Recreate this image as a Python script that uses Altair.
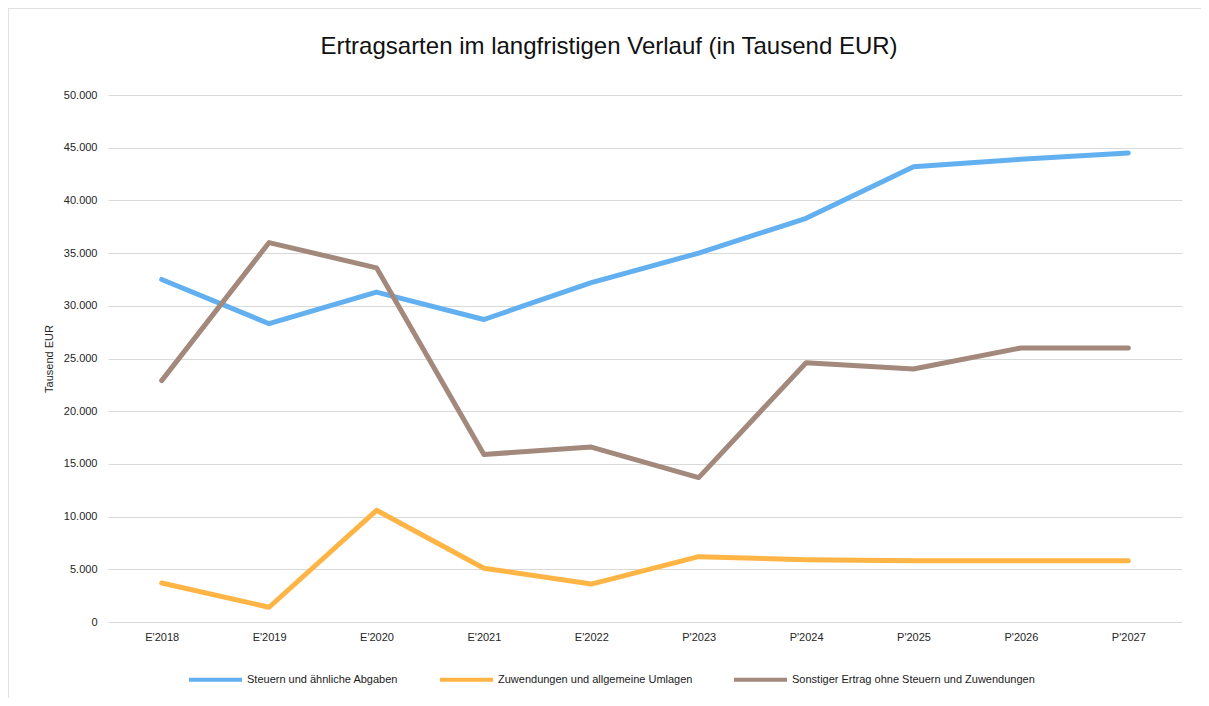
import altair as alt
import pandas as pd

years = ["E'2018", "E'2019", "E'2020", "E'2021", "E'2022",
         "P'2023", "P'2024", "P'2025", "P'2026", "P'2027"]
series_names = [
    "Steuern und ähnliche Abgaben",
    "Zuwendungen und allgemeine Umlagen",
    "Sonstiger Ertrag ohne Steuern und Zuwendungen",
]
steuern = [32500, 28300, 31300, 28700, 32200, 35000, 38300, 43200, 43900, 44500]
zuwendungen = [3700, 1400, 10600, 5100, 3600, 6200, 5900, 5800, 5800, 5800]
sonstiger = [22900, 36000, 33600, 15900, 16600, 13700, 24600, 24000, 26000, 26000]
colors = ["#62B0F0", "#FFB545", "#A3887C"]
y_ticks = list(range(0, 50001, 5000))

rows = []
for name, vals in zip(series_names, [steuern, zuwendungen, sonstiger]):
    for i, (yr, v) in enumerate(zip(years, vals)):
        rows.append({"Jahr": yr, "Serie": name, "Wert": v, "order": i})
df = pd.DataFrame(rows)

W, H = 1074, 527
FONT = "Liberation Sans"

lines = alt.Chart(df).mark_line(strokeWidth=5, strokeCap="round", strokeJoin="round").encode(
    x=alt.X("Jahr:N", sort=years, title=None,
            axis=alt.Axis(labelAngle=0, ticks=False, tickSize=0, domain=False,
                          labelPadding=9, grid=False)),
    y=alt.Y("Wert:Q", title="Tausend EUR",
            scale=alt.Scale(domain=[0, 50000], nice=False),
            axis=alt.Axis(values=y_ticks, ticks=False, tickSize=0, domain=False,
                          labelPadding=11, gridColor="#D9D9D9", gridWidth=1,
                          titlePadding=9,
                          labelExpr="replace(format(datum.value, ','), ',', '.')")),
    color=alt.Color("Serie:N", sort=series_names,
                    scale=alt.Scale(domain=series_names, range=colors),
                    legend=alt.Legend(title=None, orient="none", direction="horizontal",
                                      legendX=79, legendY=556, symbolType="stroke",
                                      symbolSize=2809, symbolStrokeWidth=4,
                                      labelOffset=3, columnPadding=33, padding=0,
                                      labelLimit=400)),
    order="order:Q",
)

border = alt.Chart(pd.DataFrame({"a": [0]})).mark_rect(
    fill=None, stroke="#D9D9D9", strokeWidth=1.5
).encode(x=alt.value(-100), x2=alt.value(1300), y=alt.value(-87), y2=alt.value(900))

chart = alt.layer(border, lines).properties(
    width=W, height=H,
    autosize=alt.AutoSizeParams(type="none"),
    padding={"left": 100, "top": 87, "right": 19, "bottom": 76},
    title=alt.Title("Ertragsarten im langfristigen Verlauf (in Tausend EUR)",
                    fontSize=24, font=FONT, fontWeight="normal", color="#111111",
                    anchor="middle", frame="group", dx=-36, offset=-52),
).configure_view(stroke=None).configure_axis(
    labelFont=FONT, labelFontSize=11, labelColor="#262626",
    titleFont=FONT, titleFontSize=11, titleFontWeight="normal", titleColor="#262626",
).configure_legend(
    labelFont=FONT, labelFontSize=11, labelColor="#1a1a1a",
)

chart.save("out.html", embed_options={"renderer": "svg", "actions": False})
